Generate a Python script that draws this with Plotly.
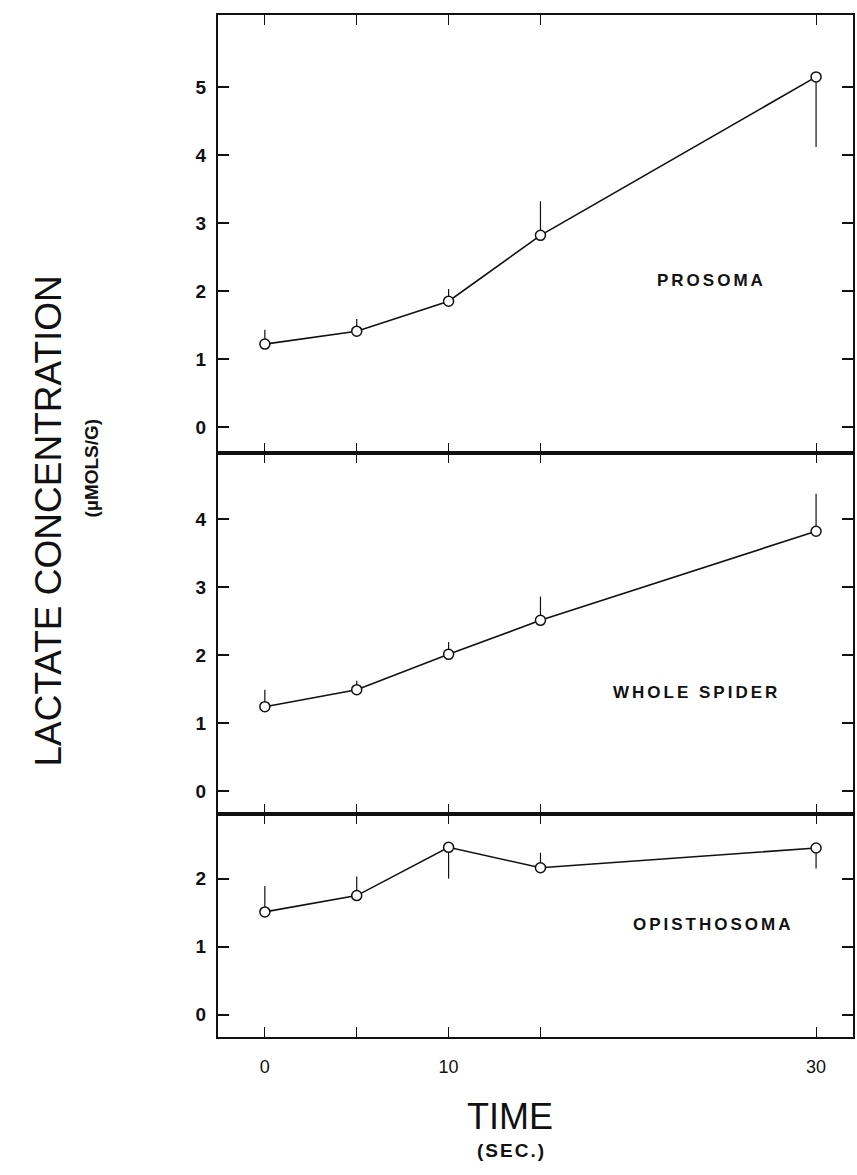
import plotly.graph_objects as go

# Sampling times (s) and tick layout
time_s = [0, 5, 10, 15, 30]
x_tickvals = [0, 5, 10, 15, 30]
x_ticktext = ["0", "", "10", "", "30"]

# Lactate concentration (umol/g) with one-sided SE bars
prosoma = [1.22, 1.41, 1.85, 2.82, 5.15]
prosoma_up = [0.21, 0.18, 0.18, 0.50, 0.0]
prosoma_down = [0.0, 0.0, 0.0, 0.0, 1.03]

whole = [1.24, 1.49, 2.01, 2.51, 3.82]
whole_up = [0.25, 0.13, 0.18, 0.35, 0.55]
whole_down = [0.0, 0.0, 0.0, 0.0, 0.0]

opistho = [1.51, 1.75, 2.46, 2.16, 2.45]
opistho_up = [0.38, 0.28, 0.0, 0.22, 0.0]
opistho_down = [0.0, 0.0, 0.46, 0.0, 0.30]

panel_names = ["PROSOMA", "WHOLE SPIDER", "OPISTHOSOMA"]
panel_label_x = [24.3, 23.5, 24.4]
panel_label_y = [2.15, 1.45, 1.33]
y_ticks = [[0, 1, 2, 3, 4, 5], [0, 1, 2, 3, 4], [0, 1, 2]]

W, H = 857, 1175
L, R, T, B = 218, 2, 15, 138
FONT = "Liberation Sans, Arial, Helvetica, sans-serif"

fig = go.Figure()

series = [
    (prosoma, prosoma_up, prosoma_down, "x3", "y3"),
    (whole, whole_up, whole_down, "x2", "y2"),
    (opistho, opistho_up, opistho_down, "x", "y"),
]
for vals, up, down, xa, ya in series:
    fig.add_trace(go.Scatter(
        x=time_s, y=vals, xaxis=xa, yaxis=ya, mode="lines+markers",
        line=dict(color="#111", width=1.6),
        marker=dict(symbol="circle", size=10, color="white",
                    line=dict(color="#111", width=1.5)),
        error_y=dict(type="data", symmetric=False, array=up, arrayminus=down,
                     width=0, thickness=1.2, color="#111"),
        showlegend=False, hoverinfo="skip",
    ))

# panel boundaries (fractions of plot height, bottom to top)
doms = [[0.0, 0.2182], [0.2182, 0.5714], [0.5714, 1.0]]
yranges = [[-0.33, 2.95], [-0.338, 4.97], [-0.382, 6.06]]
xr = [-2.55, 32.01]

common_x = dict(range=xr, showgrid=False, zeroline=False, ticks="inside",
                ticklen=10, tickwidth=1.2, tickcolor="#111",
                showline=True, linecolor="#111", linewidth=2,
                mirror="allticks", tickvals=x_tickvals, ticktext=x_ticktext)
common_y = dict(showgrid=False, zeroline=False, ticks="inside", ticklen=11,
                tickwidth=1.5, tickcolor="#111", showline=True,
                linecolor="#111", linewidth=2, mirror="allticks",
                ticklabelstandoff=6,
                tickfont=dict(family=FONT, size=19, color="#111", weight="bold"))

fig.update_layout(
    xaxis=dict(**common_x, anchor="y", domain=[0, 1], ticklabelstandoff=12,
               tickfont=dict(family=FONT, size=18, color="#111")),
    xaxis2=dict(**common_x, anchor="y2", domain=[0, 1], showticklabels=False,
                matches="x"),
    xaxis3=dict(**common_x, anchor="y3", domain=[0, 1], showticklabels=False,
                matches="x"),
    yaxis=dict(**common_y, anchor="x", domain=doms[0], range=yranges[0],
               tickvals=y_ticks[2]),
    yaxis2=dict(**common_y, anchor="x2", domain=doms[1], range=yranges[1],
                tickvals=y_ticks[1]),
    yaxis3=dict(**common_y, anchor="x3", domain=doms[2], range=yranges[2],
                tickvals=y_ticks[0]),
)

# panel names, letter-spaced
for name, xv, yv, ya in zip(panel_names, panel_label_x, panel_label_y,
                            ["y3", "y2", "y"]):
    fig.add_annotation(
        x=xv, y=yv, xref=ya.replace("y", "x"), yref=ya,
        text=f'<span style="letter-spacing:3px">{name}</span>',
        showarrow=False, xanchor="center", yanchor="middle",
        font=dict(family=FONT, size=17, color="#111", weight="bold"))


def px_x(p):
    return (p - L) / (W - L - R)


def px_y(p):
    return (H - B - p) / (H - T - B)


fig.add_annotation(x=px_x(47), y=px_y(521), xref="paper", yref="paper",
                   text="LACTATE CONCENTRATION", textangle=-90,
                   showarrow=False, xanchor="center", yanchor="middle",
                   font=dict(family=FONT, size=37, color="#111"))
fig.add_annotation(x=px_x(92), y=px_y(468), xref="paper", yref="paper",
                   text="(µMOLS/G)", textangle=-90, showarrow=False,
                   xanchor="center", yanchor="middle",
                   font=dict(family=FONT, size=19, color="#111",
                             weight="bold"))
fig.add_annotation(x=px_x(511), y=px_y(1116), xref="paper", yref="paper",
                   text="TIME", showarrow=False, xanchor="center",
                   yanchor="middle",
                   font=dict(family=FONT, size=36, color="#111"))
fig.add_annotation(x=px_x(512), y=px_y(1150), xref="paper", yref="paper",
                   text='<span style="letter-spacing:2px">(SEC.)</span>',
                   showarrow=False, xanchor="center", yanchor="middle",
                   font=dict(family=FONT, size=19, color="#111",
                             weight="bold"))

fig.update_layout(
    width=W, height=H, margin=dict(l=L, r=R, t=T, b=B),
    paper_bgcolor="white", plot_bgcolor="white",
)

fig.write_html("out.html")
